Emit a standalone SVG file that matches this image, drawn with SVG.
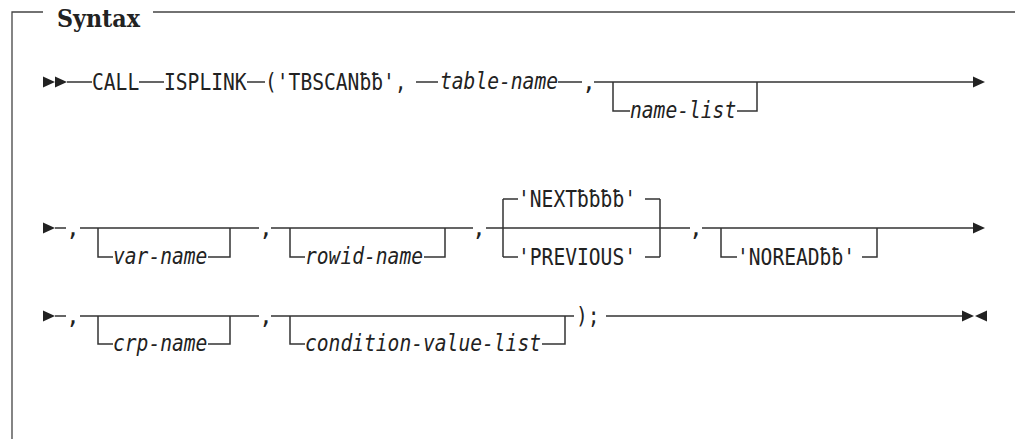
<svg xmlns="http://www.w3.org/2000/svg" width="1015" height="439" viewBox="0 0 1015 439">
<style>
.frame{fill:none;stroke:#444;stroke-width:1.3}
.ln{fill:none;stroke:#333;stroke-width:1.5}
.ah{fill:#222}
.t{font-family:"DejaVu Sans Mono","Liberation Mono",monospace;font-size:23px;fill:#222}
.v{font-family:"DejaVu Sans Mono","Liberation Mono",monospace;font-size:23px;font-style:italic;fill:#222}
.h{font-family:"DejaVu Serif","Liberation Serif",serif;font-size:23.5px;font-weight:bold;fill:#222}
</style>
<defs>
<path id="tri" d="M0 -5.5 L12 0 L0 5.5 Z"/>
<path id="tril" d="M12 -5.5 L0 0 L12 5.5 Z"/>
</defs>
<g id="frame">
<path class="frame" d="M12 439 V12 H43 M153 12 H1015"/>
<text class="h" x="57" y="27" textLength="83" lengthAdjust="spacingAndGlyphs">Syntax</text>
</g>
<g id="connectors">
<!-- row 1 -->
<path class="ln" d="M67 82 H92 M139 82 H164 M247 82 H265 M416 82 H438 M558 82 H582 M594 82 H974"/>
<path class="ln" d="M613 82 V111 H630 M737 111 H757 V82"/>
<!-- row 2 -->
<path class="ln" d="M55 228 H66 M80 228 H259 M271 228 H473 M486 228 H690 M702 228 H974"/>
<path class="ln" d="M98 228 V257 H113 M208 257 H230 V228"/>
<path class="ln" d="M290 228 V257 H305 M424 257 H445 V228"/>
<path class="ln" d="M503 199 V257 M503 199 H518 M645 199 H660 M503 257 H518 M645 257 H660 M660 199 V257"/>
<path class="ln" d="M721 228 V257 H737 M862 257 H877 V228"/>
<!-- row 3 -->
<path class="ln" d="M55 316 H66 M80 316 H259 M271 316 H574 M606 316 H963"/>
<path class="ln" d="M98 316 V344 H113 M208 344 H230 V316"/>
<path class="ln" d="M290 316 V344 H305 M542 344 H565 V316"/>
</g>
<g id="markers">
<use href="#tri" class="ah" x="43" y="82"/>
<use href="#tri" class="ah" x="55" y="82"/>
<use href="#tri" class="ah" x="973" y="82"/>
<use href="#tri" class="ah" x="43" y="228"/>
<use href="#tri" class="ah" x="973" y="228"/>
<use href="#tri" class="ah" x="43" y="316"/>
<use href="#tri" class="ah" x="962" y="316"/>
<use href="#tril" class="ah" x="975" y="316"/>
</g>
<g id="n-call"><text class="t" x="92" y="90" textLength="47.2" lengthAdjust="spacingAndGlyphs">CALL</text></g>
<g id="n-isplink"><text class="t" x="164" y="90" textLength="82.6" lengthAdjust="spacingAndGlyphs">ISPLINK</text></g>
<g id="n-tbscan"><text class="t" x="265" y="90" textLength="141.6" lengthAdjust="spacingAndGlyphs">('TBSCANƀƀ',</text></g>
<g id="n-table-name"><text class="v" x="440" y="89" textLength="118" lengthAdjust="spacingAndGlyphs">table-name</text></g>
<g id="n-comma1"><text class="t" x="582" y="90">,</text></g>
<g id="n-name-list"><text class="v" x="630" y="118" textLength="106.2" lengthAdjust="spacingAndGlyphs">name-list</text></g>

<g id="n-comma2a"><text class="t" x="66" y="236">,</text></g>
<g id="n-var-name"><text class="v" x="113" y="264" textLength="94.4" lengthAdjust="spacingAndGlyphs">var-name</text></g>
<g id="n-comma2b"><text class="t" x="259" y="236">,</text></g>
<g id="n-rowid-name"><text class="v" x="305" y="264" textLength="118" lengthAdjust="spacingAndGlyphs">rowid-name</text></g>
<g id="n-comma2c"><text class="t" x="472" y="236">,</text></g>
<g id="n-next"><text class="t" x="518" y="207" textLength="118" lengthAdjust="spacingAndGlyphs">'NEXTƀƀƀƀ'</text></g>
<g id="n-previous"><text class="t" x="518" y="265" textLength="118" lengthAdjust="spacingAndGlyphs">'PREVIOUS'</text></g>
<g id="n-comma2d"><text class="t" x="689" y="236">,</text></g>
<g id="n-noread"><text class="t" x="737" y="265" textLength="118" lengthAdjust="spacingAndGlyphs">'NOREADƀƀ'</text></g>

<g id="n-comma3a"><text class="t" x="66" y="324">,</text></g>
<g id="n-crp-name"><text class="v" x="113" y="351" textLength="94.4" lengthAdjust="spacingAndGlyphs">crp-name</text></g>
<g id="n-comma3b"><text class="t" x="259" y="324">,</text></g>
<g id="n-condition"><text class="v" x="305" y="351" textLength="236" lengthAdjust="spacingAndGlyphs">condition-value-list</text></g>
<g id="n-close"><text class="t" x="576" y="324" textLength="23.6" lengthAdjust="spacingAndGlyphs">);</text></g>
</svg>
